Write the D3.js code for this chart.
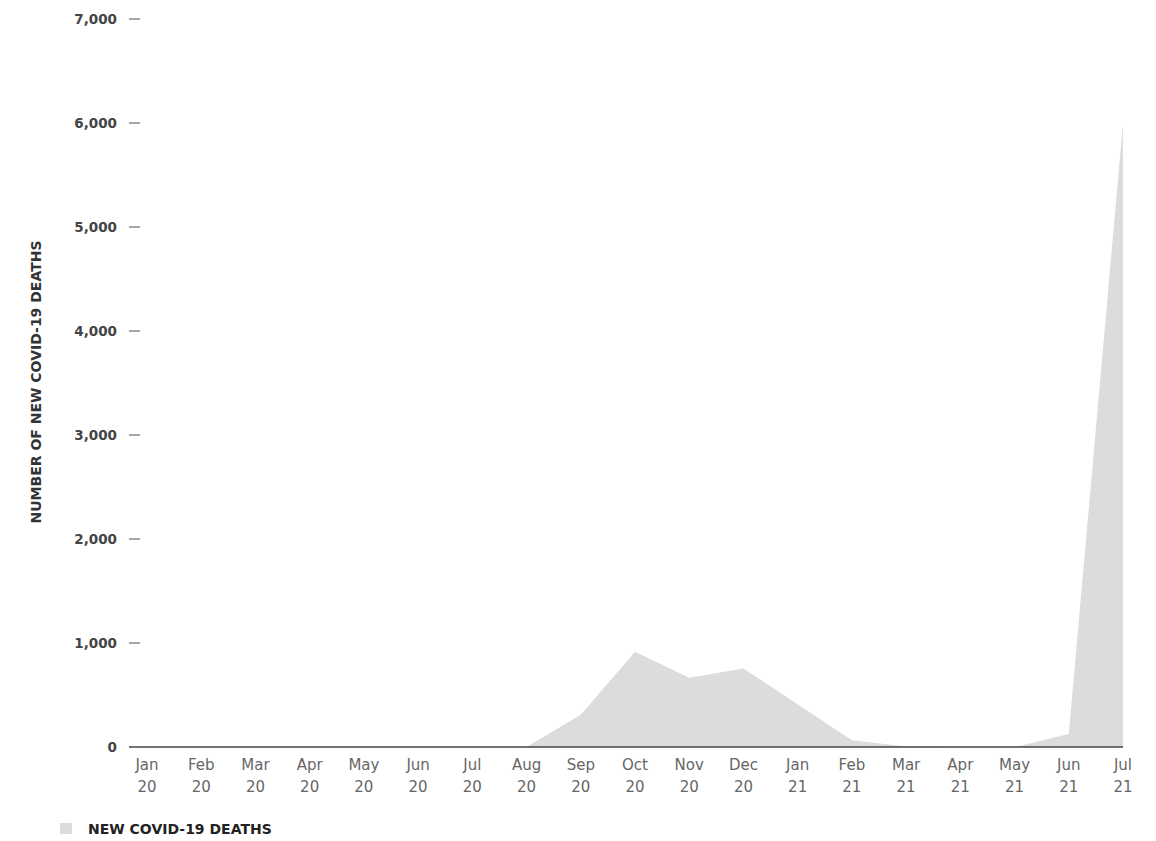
<!DOCTYPE html>
<html>
<head>
<meta charset="utf-8">
<script src="https://cdn.jsdelivr.net/npm/d3@7"></script>
<style>
  body { margin: 0; background: #fff; font-family: "DejaVu Sans", sans-serif; }
</style>
</head>
<body>
<div id="chart"></div>
<script>
// Chart data
const months = ["Jan", "Feb", "Mar", "Apr", "May", "Jun", "Jul", "Aug", "Sep", "Oct", "Nov", "Dec",
                "Jan", "Feb", "Mar", "Apr", "May", "Jun", "Jul"];
const years = ["20", "20", "20", "20", "20", "20", "20", "20", "20", "20", "20", "20",
               "21", "21", "21", "21", "21", "21", "21"];
const deaths = [0, 0, 0, 0, 0, 0, 0, 0, 310, 915, 665, 755, 410, 65, 5, 0, 0, 125, 6000];
const yTicks = [0, 1000, 2000, 3000, 4000, 5000, 6000, 7000];

const svgWidth = 1156;
const svgHeight = 841;
const margin = { top: 19, right: 33, bottom: 94, left: 129 };

const svg = d3.select('#chart').append('svg')
    .attr('width', svgWidth)
    .attr('height', svgHeight);

const keys = months.map((m, i) => i);

// x: point positions for each month label
const xScale = d3.scalePoint()
    .domain(keys)
    .range([147, svgWidth - margin.right]);

const yScale = d3.scaleLinear()
    .domain([0, 7000])
    .range([svgHeight - margin.bottom, margin.top]);

const baseY = yScale(0);

// Area
const area = d3.area()
    .x((d, i) => xScale(i))
    .y0(baseY)
    .y1(d => yScale(d));

svg.append('path')
    .datum(deaths)
    .attr('d', area)
    .attr('fill', '#dcdcde');

// Baseline
svg.append('line')
    .attr('x1', margin.left)
    .attr('x2', xScale(keys[keys.length - 1]))
    .attr('y1', baseY)
    .attr('y2', baseY)
    .attr('stroke', '#444')
    .attr('stroke-width', 1.5);

// Y axis ticks and labels
const yAxis = svg.append('g');
yAxis.selectAll('line')
    .data(yTicks.filter(d => d > 0))
    .enter()
    .append('line')
    .attr('x1', margin.left)
    .attr('x2', margin.left + 11)
    .attr('y1', d => yScale(d))
    .attr('y2', d => yScale(d))
    .attr('stroke', '#555')
    .attr('stroke-width', 1);

yAxis.selectAll('text')
    .data(yTicks)
    .enter()
    .append('text')
    .attr('x', 117)
    .attr('y', d => yScale(d))
    .attr('dy', '0.35em')
    .attr('text-anchor', 'end')
    .style('font-size', '13.5px')
    .style('font-weight', 'bold')
    .style('fill', '#444')
    .text(d => d3.format(',')(d));

// X axis labels (two lines)
const xLabels = svg.append('g').selectAll('text')
    .data(keys)
    .enter()
    .append('text')
    .attr('x', d => xScale(d))
    .attr('text-anchor', 'middle')
    .style('font-size', '15px')
    .style('fill', '#666');

xLabels.append('tspan')
    .attr('x', d => xScale(d))
    .attr('y', 770)
    .text(d => months[d]);

xLabels.append('tspan')
    .attr('x', d => xScale(d))
    .attr('y', 792)
    .text(d => years[d]);

// Y axis title
svg.append('text')
    .attr('transform', 'translate(41,382) rotate(-90)')
    .attr('text-anchor', 'middle')
    .style('font-size', '14px')
    .style('font-weight', 'bold')
    .style('fill', '#333')
    .text('NUMBER OF NEW COVID-19 DEATHS');

// Legend
const legend = svg.append('g').attr('transform', 'translate(60,823)');
legend.append('rect')
    .attr('width', 12)
    .attr('height', 11)
    .attr('fill', '#dcdcde');
legend.append('text')
    .attr('x', 28)
    .attr('y', 6)
    .attr('dy', '0.35em')
    .style('font-size', '14px')
    .style('font-weight', 'bold')
    .style('fill', '#222')
    .text('NEW COVID-19 DEATHS');
</script>
</body>
</html>
